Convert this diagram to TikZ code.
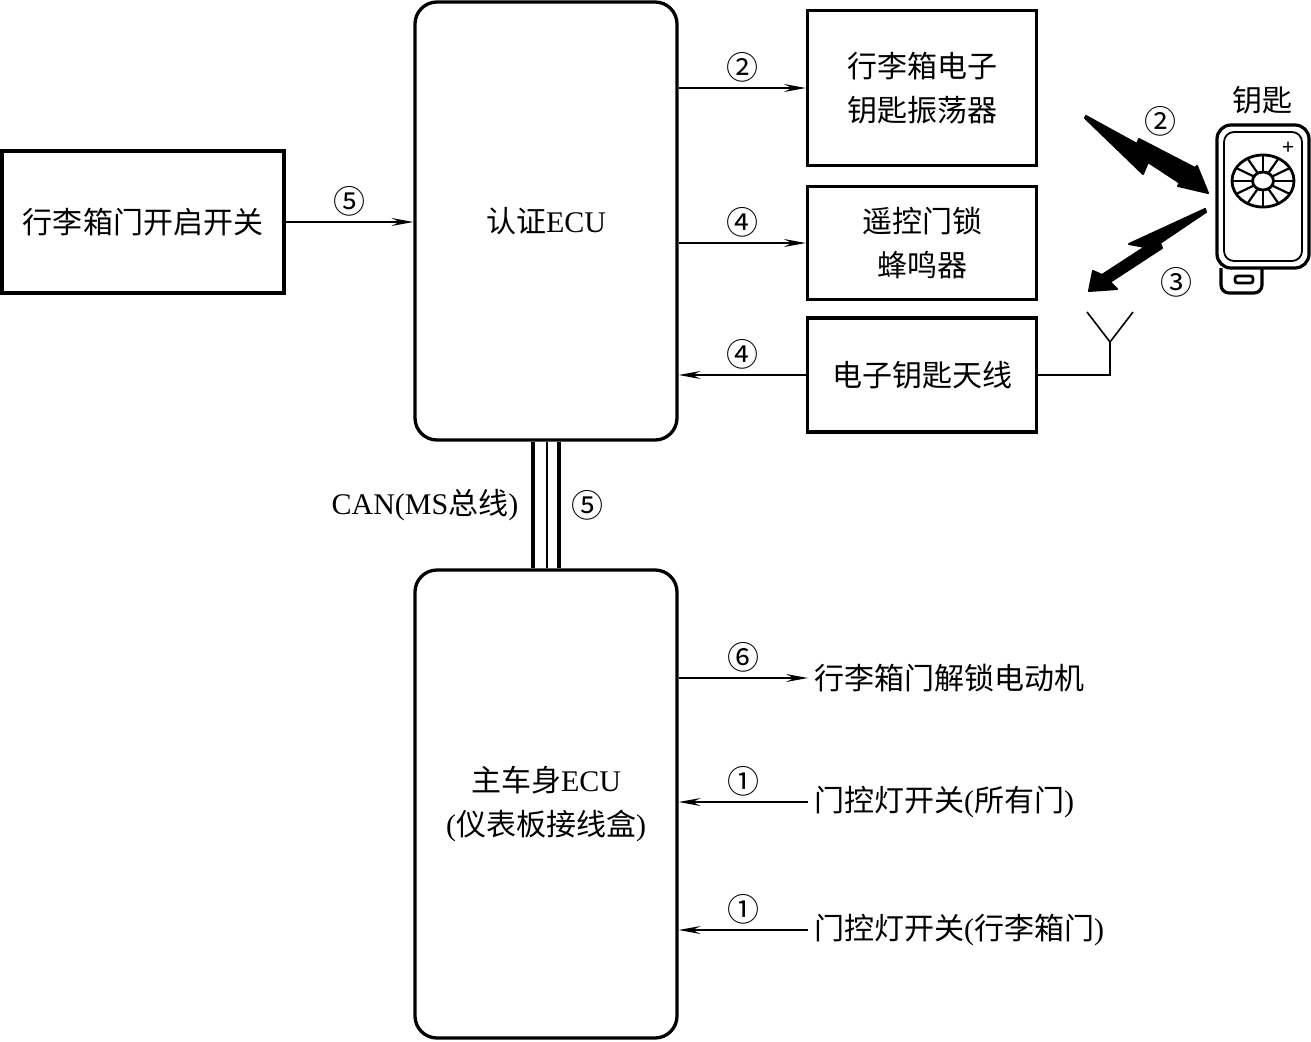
\documentclass[tikz,border=0pt]{standalone}
\usepackage{fontspec}
\setmainfont{Liberation Serif}
\newfontfamily\cjk{Noto Sans CJK SC}
\newcommand\zh[1]{{\cjk #1}}
\usetikzlibrary{arrows.meta,calc}

\begin{document}
\begin{tikzpicture}[x=1pt, y=-1pt,
    every node/.style={font=\fontsize{30}{44}\selectfont, align=center},
    box/.style={draw, line width=3.3pt, inner sep=0pt},
    ecu/.style={box, rounded corners=22pt, minimum width=262pt},
    sig/.style={line width=1.6pt, -{Stealth[length=22pt, width=8pt, inset=8pt]}},
    num/.style={font=\cjk\fontsize{32}{34}\selectfont, inner sep=2pt},
    bolt/.style={fill=black, draw=black, line width=2pt, line join=round}]
  \useasboundingbox (0,0) rectangle (1311,1041);

  % control units
  \node[ecu, minimum height=438pt] (auth) at (546,221) {\zh{认证}ECU};
  \node[ecu, minimum height=468pt] (body) at (546,804) {\zh{主车身}ECU\\(\zh{仪表板接线盒})};

  % boxes round the units
  \node[box, minimum width=282pt, minimum height=142pt] (trunksw) at (143,222) {\zh{行李箱门开启开关}};
  \node[box, minimum width=229pt, minimum height=155pt] (osc) at (922,88) {\zh{行李箱电子}\\\zh{钥匙振荡器}};
  \node[box, minimum width=229pt, minimum height=113pt] (buzz) at (922,243) {\zh{遥控门锁}\\\zh{蜂鸣器}};
  \node[box, minimum width=229pt, minimum height=114pt] (ant) at (922,375) {\zh{电子钥匙天线}};
  \node[anchor=west, inner sep=6pt] (motor) at (808,678) {\zh{行李箱门解锁电动机}};
  \node[anchor=west, inner sep=6pt] (allsw) at (808,802) {\zh{门控灯开关}(\zh{所有门})};
  \node[anchor=west, inner sep=6pt] (lidsw) at (808,930) {\zh{门控灯开关}(\zh{行李箱门})};

  % signals
  \draw[sig] (trunksw.east) -- node[num, above=3pt] {⑤} (auth.west |- trunksw.east);
  \draw[sig] (auth.east |- osc.west) -- node[num, above=3pt] {②} (osc.west);
  \draw[sig] (auth.east |- buzz.west) -- node[num, above=3pt] {④} (buzz.west);
  \draw[sig] (ant.west) -- node[num, above=3pt] {④} (auth.east |- ant.west);
  \draw[sig] (body.east |- motor.west) -- node[num, above=3pt] {⑥} (motor.west);
  \draw[sig] (allsw.west) -- node[num, above=3pt] {①} (body.east |- allsw.west);
  \draw[sig] (lidsw.west) -- node[num, above=3pt] {①} (body.east |- lidsw.west);

  % CAN bus
  \foreach \dx/\w in {-13/4.5, 1/2, 13/4.5}
    \draw[line width=\w pt] ([xshift=\dx pt]auth.south) -- ([xshift=\dx pt]body.north);
  \node (canlbl) at (425,505) {CAN(MS\zh{总线})};
  \node[num] (canno) at (587,505) {⑤};

  % antenna
  \coordinate (afoot) at (1110,375);
  \coordinate (amast) at (1110,342);
  \coordinate (aleft) at (1087,312);
  \coordinate (aright) at (1133,312);
  \draw[line width=1.6pt] (ant.east) -- (afoot) -- (amast) -- (aleft) (amast) -- (aright);

  % key
  \draw[line width=3.2pt, rounded corners=14pt] (1217,125) rectangle (1309,268);
  \draw[line width=1.8pt, rounded corners=10pt] (1224,132) rectangle (1302,261);
  \draw[line width=3.2pt, rounded corners=8pt] (1221,268) -- (1221,293) -- (1262,293) -- (1262,268);
  \draw[line width=2.8pt, rounded corners=2.5pt] (1235,276) rectangle (1253,283);
  \coordinate (dial) at (1263,181);
  \draw[line width=2.8pt] (dial) ellipse [x radius=31, y radius=26];
  \draw[line width=2.8pt] (dial) ellipse [x radius=10.5, y radius=9];
  \foreach \a in {0,30,...,330}
    \draw[line width=2.2pt] ([shift={(\a:10.5 and 9)}]dial) -- ([shift={(\a:31 and 26)}]dial);
  \node[font=\bfseries\fontsize{22}{22}\selectfont, inner sep=0pt] (plus) at (1288,148) {+};
  \node (keylbl) at (1262,100) {\zh{钥匙}};

  % radio links
  \fill[bolt] (1086,116) -- (1137,144) -- (1139,139) -- (1195,168) -- (1197,166) -- (1208,193)
    -- (1178,186) -- (1180,183) -- (1148,162) -- (1143,174) -- (1085,118) -- cycle;
  \fill[bolt] (1205,209) -- (1129,244) -- (1145,247) -- (1102,275) -- (1093,271) -- (1089,291)
    -- (1117,289) -- (1110,282) -- (1162,248) -- (1160,243) -- (1206,212) -- cycle;
  \node[num] (n2) at (1160,121) {②};
  \node[num] (n3) at (1176,282) {③};
\end{tikzpicture}
\end{document}
